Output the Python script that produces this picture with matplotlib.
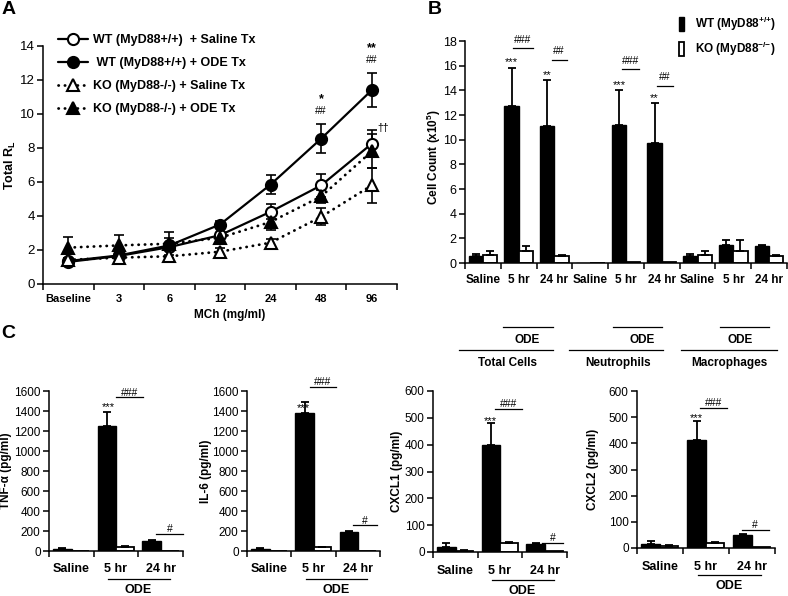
import matplotlib
matplotlib.use('Agg')
import matplotlib.pyplot as plt
import numpy as np
from matplotlib.ticker import FixedLocator, NullFormatter

plt.rcParams['font.family'] = ['Liberation Sans', 'DejaVu Sans']
plt.rcParams['mathtext.fontset'] = 'custom'
plt.rcParams['mathtext.rm'] = 'Liberation Sans:bold'
plt.rcParams['mathtext.bf'] = 'Liberation Sans:bold'
plt.rcParams['mathtext.it'] = 'Liberation Sans:bold'

# ---------------- data: panel A ----------------
doses = ['Baseline', '3', '6', '12', '24', '48', '96']
wt_sal = [1.30, 1.65, 2.17, 2.87, 4.25, 5.80, 8.25]
wt_sal_err = [0.10, 0.10, 0.15, 0.15, 0.45, 0.70, 0.80]
wt_ode = [1.35, 1.68, 2.27, 3.50, 5.85, 8.55, 11.40]
wt_ode_err = [0.10, 0.15, 0.80, 0.20, 0.55, 0.85, 1.00]
ko_sal = [1.42, 1.55, 1.63, 1.90, 2.43, 3.95, 5.80]
ko_sal_err = [0.10, 0.15, 0.10, 0.20, 0.20, 0.50, 1.05]
ko_ode = [2.14, 2.27, 2.37, 2.72, 3.65, 5.15, 7.80]
ko_ode_err = [0.60, 0.62, 0.35, 0.30, 0.50, 0.40, 1.00]
series_labels_a = ['WT (MyD88+/+)  + Saline Tx', ' WT (MyD88+/+) + ODE Tx',
                   'KO (MyD88-/-) + Saline Tx', 'KO (MyD88-/-) + ODE Tx']

# ---------------- data: panel B ----------------
b_groups = ['Saline', '5 hr', '24 hr'] * 3
b_sections = ['Total Cells', 'Neutrophils', 'Macrophages']
wt_b = [0.60, 12.70, 11.10, 0.02, 11.20, 9.75, 0.60, 1.50, 1.40]
wt_b_err = [0.10, 3.15, 3.70, 0.0, 2.80, 3.20, 0.10, 0.35, 0.10]
ko_b = [0.65, 1.00, 0.55, 0.02, 0.05, 0.05, 0.65, 0.95, 0.55]
ko_b_err = [0.30, 0.40, 0.10, 0.0, 0.0, 0.0, 0.30, 0.95, 0.10]
b_labels = ['WT (MyD88$^{{+}/{+}}$)', 'KO (MyD88$^{{-}/{-}}$)']

# ---------------- data: panel C ----------------
c_groups = ['Saline', '5 hr', '24 hr']
tnf_wt = [18, 1255, 100]; tnf_wt_err = [12, 135, 8]
tnf_ko = [3, 42, 5]; tnf_ko_err = [0, 12, 0]
il6_wt = [17, 1385, 190]; il6_wt_err = [13, 110, 12]
il6_ko = [5, 38, 5]; il6_ko_err = [0, 4, 0]
cxcl1_wt = [18, 400, 30]; cxcl1_wt_err = [14, 80, 4]
cxcl1_ko = [5, 33, 2]; cxcl1_ko_err = [2, 3, 0]
cxcl2_wt = [15, 412, 50]; cxcl2_wt_err = [10, 72, 2]
cxcl2_ko = [8, 18, 3]; cxcl2_ko_err = [3, 4, 0]

W, H = 788, 596
fig = plt.figure(figsize=(W / 100, H / 100), dpi=100)


def px_axes(l, t, r, b):
    return fig.add_axes([l / W, 1 - b / H, (r - l) / W, (b - t) / H])


def style_axes(ax, n, ticksize):
    for s in ['top', 'right']:
        ax.spines[s].set_visible(False)
    for s in ['left', 'bottom']:
        ax.spines[s].set_linewidth(1.1)
    ax.set_xlim(-0.5, n - 0.5)
    ax.xaxis.set_minor_locator(FixedLocator(np.arange(-0.5, n, 1.0)))
    ax.xaxis.set_minor_formatter(NullFormatter())
    ax.tick_params(axis='x', which='major', length=0)
    ax.tick_params(axis='x', which='minor', length=4, direction='out', width=1.1)
    ax.tick_params(axis='y', length=4, direction='out', width=1.1, labelsize=ticksize, pad=2)
    ax.set_xticks(np.arange(n))


# ================= Panel A =================
axA = px_axes(43, 46, 397, 284)
x = np.arange(len(doses))
dotted = (0, (0.1, 2.2))
specs = [
    (wt_sal, wt_sal_err, '-', 'o', 'white'),
    (wt_ode, wt_ode_err, '-', 'o', 'black'),
    (ko_sal, ko_sal_err, dotted, '^', 'white'),
    (ko_ode, ko_ode_err, dotted, '^', 'black'),
]
handles = []
for i, (y, e, ls, mk, fc) in enumerate(specs):
    axA.errorbar(x, y, yerr=e, fmt='none', ecolor='black', elinewidth=1.2,
                 capsize=3.5, capthick=1.2, zorder=2)
    h, = axA.plot(x, y, linestyle=ls, color='black',
                  linewidth=1.6 if ls == '-' else 2.0, marker=mk,
                  markersize=8 if mk == 'o' else 8.5, markerfacecolor=fc,
                  markeredgecolor='black', markeredgewidth=1.5, zorder=3 + i,
                  dash_capstyle='round', solid_capstyle='round')
    handles.append(h)
style_axes(axA, len(doses), 9.5)
axA.set_ylim(0, 14)
axA.set_yticks(np.arange(0, 15, 2))
axA.set_xticklabels(doses, fontsize=8, fontweight='bold')
axA.tick_params(axis='x', which='major', pad=7)
axA.text((10 - 43) / 354, 0.5, 'Total R$_\\mathregular{L}$', transform=axA.transAxes,
         rotation=90, ha='center', va='center', fontsize=9, fontweight='bold')
axA.text((230 - 43) / 354, (284 - 315) / 238, 'MCh (mg/ml)', transform=axA.transAxes,
         ha='center', va='center', fontsize=8.5, fontweight='bold')
leg = axA.legend(handles, series_labels_a, loc='upper left', frameon=False,
                 bbox_to_anchor=(58 / W, 1 - 34 / H), bbox_transform=fig.transFigure,
                 prop={'weight': 'bold', 'size': 9}, handlelength=2.4,
                 handletextpad=0.4, labelspacing=0.88, borderpad=0, borderaxespad=0)
# significance marks
axA.text(5, 10.9, '*', ha='center', va='center', fontsize=9, fontweight='bold')
axA.text(5, 10.2, '##', ha='center', va='center', fontsize=7.5)
axA.text(6, 13.85, '**', ha='center', va='center', fontsize=9, fontweight='bold')
axA.text(6, 13.2, '##', ha='center', va='center', fontsize=7.5)
axA.text(6.22, 9.15, '\u2020\u2020', ha='center', va='center', fontsize=7.5)
fig.text(2 / W, 1 - 10 / H, 'A', fontsize=14, fontweight='bold', ha='left', va='center')

# ================= Panel B =================
axB = px_axes(465, 41, 787, 263)
xb = np.arange(len(b_groups))
bw = 0.4
barsW = axB.bar(xb - 0.2, wt_b, bw, color='black', edgecolor='black', linewidth=1.0, zorder=2)
barsK = axB.bar(xb + 0.2, ko_b, bw, color='white', edgecolor='black', linewidth=1.3, zorder=2)
for xs, ys, es in [(xb - 0.2, wt_b, wt_b_err), (xb + 0.2, ko_b, ko_b_err)]:
    m = np.array(es) > 0
    axB.errorbar(xs[m], np.array(ys)[m], yerr=[np.zeros(m.sum()), np.array(es)[m]],
                 fmt='none', ecolor='black', elinewidth=1.3, capsize=3, capthick=1.3, zorder=3)
style_axes(axB, len(b_groups), 9)
axB.set_ylim(0, 18)
axB.set_yticks(np.arange(0, 19, 2))
axB.set_xticklabels(b_groups, fontsize=8.5, fontweight='bold')
axB.tick_params(axis='x', which='major', pad=8)
axB.text((434 - 465) / 322, (263 - 157) / 222, 'Cell Count (x10$^{5}$)',
         transform=axB.transAxes, rotation=90, ha='center', va='center',
         fontsize=8.5, fontweight='bold')
axB.legend([barsW, barsK], b_labels, loc='upper left', frameon=False,
           bbox_to_anchor=(679 / W, 1 - 15 / H), bbox_transform=fig.transFigure,
           prop={'weight': 'bold', 'size': 8.5}, handlelength=0.45, handleheight=1.4,
           handletextpad=0.9, labelspacing=0.55, borderpad=0, borderaxespad=0)
# stars
for gi, ytxt, s in [(1, 16.3, '***'), (2, 15.2, '**'), (4, 14.4, '***'), (5, 13.35, '**')]:
    axB.text(gi - 0.2, ytxt, s, ha='center', va='center', fontsize=8)
# hash brackets
for gi, yl, r0, r1, s in [(1, 17.4, -0.17, 0.41, '###'), (2, 16.5, -0.08, 0.34, '##'),
                          (4, 15.7, -0.12, 0.35, '###'), (5, 14.35, -0.13, 0.32, '##')]:
    axB.plot([gi + r0, gi + r1], [yl, yl], color='black', lw=0.9, clip_on=False)
    axB.text(gi + (r0 + r1) / 2, yl + 0.3, s, ha='center', va='bottom', fontsize=7.5)
# section labels below B
tr = axB.get_xaxis_transform()
sec_pos = [(0.56, 1.96, -0.67, 1.96, 1.23, 0.70),
           (3.64, 5.00, 2.41, 5.03, 4.44, 3.78),
           (6.63, 8.00, 5.54, 8.22, 7.19, 6.88)]
for (u0, u1, l0, l1, ode_x, sec_x), name in zip(sec_pos, b_sections):
    axB.plot([u0, u1], [-0.288, -0.288], color='black', lw=0.9, transform=tr, clip_on=False)
    axB.text(ode_x, -0.345, 'ODE', transform=tr, ha='center', va='center',
             fontsize=8.5, fontweight='bold')
    axB.plot([l0, l1], [-0.39, -0.39], color='black', lw=0.9, transform=tr, clip_on=False)
    axB.text(sec_x, -0.45, name, transform=tr, ha='center', va='center',
             fontsize=8.5, fontweight='bold')
fig.text(428 / W, 1 - 10 / H, 'B', fontsize=14, fontweight='bold', ha='left', va='center')
fig.text(1 / W, 1 - 334 / H, 'C', fontsize=14, fontweight='bold', ha='left', va='center')


# ================= Panel C =================
def c_panel(box, wt, wt_e, ko, ko_e, ymax, ystep, ylabel, ylab_x, stars, hashes):
    l, t, r, b = box
    ax = px_axes(l, t, r, b)
    xc = np.arange(len(c_groups))
    ax.bar(xc - 0.2, wt, 0.42, color='black', edgecolor='black', linewidth=1.0, zorder=2)
    ax.bar(xc + 0.2, ko, 0.4, color='white', edgecolor='black', linewidth=1.3, zorder=2)
    for xs, ys, es in [(xc - 0.2, wt, wt_e), (xc + 0.2, ko, ko_e)]:
        m = np.array(es) > 0
        ax.errorbar(xs[m], np.array(ys)[m], yerr=[np.zeros(m.sum()), np.array(es)[m]],
                    fmt='none', ecolor='black', elinewidth=1.3, capsize=3, capthick=1.3,
                    zorder=3)
    style_axes(ax, len(c_groups), 8.5)
    ax.set_ylim(0, ymax)
    ax.set_yticks(np.arange(0, ymax + 1, ystep))
    ax.set_xticklabels(c_groups, fontsize=9, fontweight='bold')
    ax.tick_params(axis='x', which='major', pad=9)
    ax.text((ylab_x - l) / (r - l), 0.5, ylabel, transform=ax.transAxes, rotation=90,
            ha='center', va='center', fontsize=8.5, fontweight='bold')
    sx, sy = stars
    ax.text(sx, sy, '***', ha='center', va='center', fontsize=8)
    for gi, yl, r0, r1, s, yt in hashes:
        ax.plot([gi + r0, gi + r1], [yl, yl], color='black', lw=0.9, clip_on=False)
        ax.text(gi + (r0 + r1) / 2, yt, s, ha='center', va='center', fontsize=7.5)
    trc = ax.get_xaxis_transform()
    ax.plot([0.83, 2.2], [-0.172, -0.172], color='black', lw=0.9, transform=trc, clip_on=False)
    ax.text(1.5, -0.243, 'ODE', transform=trc, ha='center', va='center',
            fontsize=9, fontweight='bold')
    return ax


c_panel((49, 391, 183, 551), tnf_wt, tnf_wt_err, tnf_ko, tnf_ko_err, 1600, 200,
        'TNF-\u03b1 (pg/ml)', 6, (0.82, 1435),
        [(1, 1537, 0.0, 0.6, '###', 1575), (2, 175, -0.1, 0.5, '#', 215)])
c_panel((247, 391, 380, 551), il6_wt, il6_wt_err, il6_ko, il6_ko_err, 1600, 200,
        'IL-6 (pg/ml)', 206, (0.78, 1430),
        [(1, 1643, -0.08, 0.5, '###', 1690), (2, 265, -0.1, 0.43, '#', 305)])
c_panel((433, 391, 567, 552), cxcl1_wt, cxcl1_wt_err, cxcl1_ko, cxcl1_ko_err, 600, 100,
        'CXCL1 (pg/ml)', 397, (0.79, 487),
        [(1, 533, -0.11, 0.49, '###', 553), (2, 34, -0.07, 0.42, '#', 53)])
c_panel((637, 391, 775, 548), cxcl2_wt, cxcl2_wt_err, cxcl2_ko, cxcl2_ko_err, 600, 100,
        'CXCL2 (pg/ml)', 593, (0.78, 497),
        [(1, 536, -0.12, 0.46, '###', 553), (2, 70, -0.22, 0.36, '#', 86)])

fig.savefig('out.png', dpi=100)
